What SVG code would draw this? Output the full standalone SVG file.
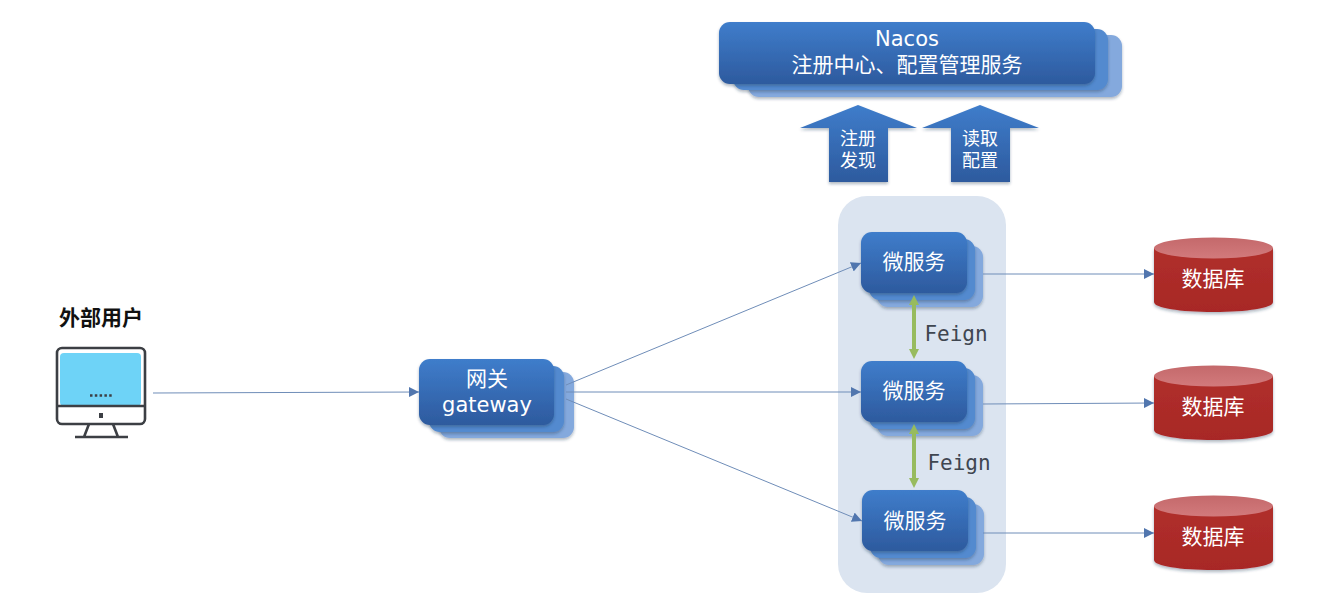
<svg xmlns="http://www.w3.org/2000/svg" width="1338" height="602" viewBox="0 0 1338 602">
<style>
text{font-family:"DejaVu Sans","Noto Sans CJK SC",sans-serif;text-anchor:middle}
.w{fill:#fff;font-size:21px}
.cn{fill:#fff;font-size:21px;font-family:"Noto Sans CJK SC",sans-serif}
.sm{fill:#fff;font-size:18px;font-family:"Noto Sans CJK SC",sans-serif}
.f{fill:#3f4650;font-size:21px;font-family:"DejaVu Sans Mono",monospace}
.front{fill:url(#blue);filter:url(#sh)}
.mid{fill:#528acf;filter:url(#sh)}
.back{fill:#84a9dd;filter:url(#sh)}
.c{stroke:#6f8db8;stroke-width:1;fill:none;marker-end:url(#ah)}
.g{stroke:#97bb5e;stroke-width:4;fill:none;marker-start:url(#gh);marker-end:url(#gh)}
.scr{fill:none;stroke:#3c3f44;stroke-width:2.6}
</style>
<defs>
<linearGradient id="blue" x1="0" y1="0" x2="0" y2="1"><stop offset="0" stop-color="#3f7dcb"/><stop offset="1" stop-color="#2d5a9e"/></linearGradient>
<linearGradient id="red" x1="0" y1="0" x2="0" y2="1"><stop offset="0" stop-color="#b02f2c"/><stop offset="1" stop-color="#a82825"/></linearGradient>
<linearGradient id="lid" x1="0" y1="0" x2="0" y2="1"><stop offset="0" stop-color="#c4696b"/><stop offset="1" stop-color="#d27a7c"/></linearGradient>
<filter id="sh" x="-10%" y="-10%" width="120%" height="130%"><feDropShadow dx="0" dy="2" stdDeviation="1.8" flood-color="#1f3050" flood-opacity=".35"/></filter>
<marker id="ah" markerUnits="userSpaceOnUse" markerWidth="11" markerHeight="10" refX="10" refY="5" orient="auto"><path d="M0 0L10 5L0 10z" fill="#5176ae"/></marker>
<marker id="gh" markerUnits="userSpaceOnUse" markerWidth="11" markerHeight="10" refX="1" refY="5" orient="auto-start-reverse"><path d="M0 0L10 5L0 10z" fill="#97bb5e"/></marker>
</defs>
<rect width="1338" height="602" fill="#fff"/>
<rect id="panel" x="838" y="196" width="168" height="397" rx="29" fill="#dbe4f0"/>
<g id="nacos">
<rect class="back" x="748" y="35" width="374" height="62" rx="11"/>
<rect class="mid" x="733" y="29" width="375" height="61" rx="11"/>
<rect class="front" x="719" y="22" width="376" height="62" rx="11"/>
<text class="w" x="907" y="46">Nacos</text>
<text class="w" x="907" y="72" style="font-family:'Noto Sans CJK SC',sans-serif">注册中心、配置管理服务</text>
</g>
<g id="register-arrow">
<path class="front" d="M858 105L917 128H888V182H829V128H800z"/>
<text class="sm" x="858" y="145">注册<tspan x="858" dy="22">发现</tspan></text>
</g>
<g id="config-arrow">
<path class="front" d="M980 105L1039 128H1010V182H951V128H922z"/>
<text class="sm" x="980" y="145">读取<tspan x="980" dy="22">配置</tspan></text>
</g>
<g id="user">
<text x="101" y="325" style="font-size:21px;font-weight:700;fill:#111;font-family:'Noto Sans CJK SC',sans-serif">外部用户</text>
<rect x="60" y="353" width="81" height="53" rx="4" fill="#6ed3f7"/>
<rect class="scr" x="57" y="348" width="88" height="76" rx="5"/>
<path class="scr" d="M57 406H145M89 424L84 437M113 424L118 437M75 437H128"/>
<rect x="99" y="413" width="4" height="5" fill="#3c3f44"/>
<path d="M90 395.500H113" stroke="#3c3f44" stroke-width="2.500" stroke-dasharray="2.500 2.300" fill="none"/>
</g>
<g id="gateway">
<rect class="back" x="439" y="372" width="135" height="66" rx="11"/>
<rect class="mid" x="429" y="366" width="135" height="66" rx="11"/>
<rect class="front" x="419" y="359" width="135" height="66" rx="11"/>
<text class="w" x="487" y="386" style="font-family:'Noto Sans CJK SC',sans-serif">网关</text>
<text class="w" x="487" y="412">gateway</text>
</g>
<g id="service-1">
<rect class="back" x="877" y="246" width="106" height="61" rx="11"/>
<rect class="mid" x="869" y="239" width="106" height="61" rx="11"/>
<rect class="front" x="861" y="232" width="106" height="61" rx="11"/>
<text class="cn" x="914" y="269">微服务</text>
</g>
<g id="service-2">
<rect class="back" x="877" y="375" width="106" height="61" rx="11"/>
<rect class="mid" x="869" y="368" width="106" height="61" rx="11"/>
<rect class="front" x="861" y="361" width="106" height="61" rx="11"/>
<text class="cn" x="914" y="398">微服务</text>
</g>
<g id="service-3">
<rect class="back" x="878" y="504" width="106" height="61" rx="11"/>
<rect class="mid" x="870" y="497" width="106" height="61" rx="11"/>
<rect class="front" x="862" y="490" width="106" height="61" rx="11"/>
<text class="cn" x="915" y="528">微服务</text>
</g>
<g id="db-1">
<path d="M1154 248V302C1154 308 1180 312 1213.500 312S1273 308 1273 302V248z" fill="url(#red)" filter="url(#sh)"/>
<ellipse cx="1213.500" cy="248" rx="59.500" ry="10.500" fill="url(#lid)"/>
<text class="cn" x="1213" y="286">数据库</text>
</g>
<g id="db-2">
<path d="M1154 376V430C1154 436 1180 440 1213.500 440S1273 436 1273 430V376z" fill="url(#red)" filter="url(#sh)"/>
<ellipse cx="1213.500" cy="376" rx="59.500" ry="10.500" fill="url(#lid)"/>
<text class="cn" x="1213" y="414">数据库</text>
</g>
<g id="db-3">
<path d="M1154 506V560C1154 566 1180 570 1213.500 570S1273 566 1273 560V506z" fill="url(#red)" filter="url(#sh)"/>
<ellipse cx="1213.500" cy="506" rx="59.500" ry="10.500" fill="url(#lid)"/>
<text class="cn" x="1213" y="544">数据库</text>
</g>
<g id="connectors">
<path class="c" d="M153 393L419 392"/>
<path class="c" d="M566 385L861 263"/>
<path class="c" d="M566 392L861 392"/>
<path class="c" d="M566 399L862 521"/>
<path class="c" d="M983 274L1154 274"/>
<path class="c" d="M983 404L1154 403"/>
<path class="c" d="M983 533L1154 533"/>
<path class="g" d="M914 304L914 350"/>
<path class="g" d="M914 433L914 479"/>
</g>
<text class="f" x="956" y="341">Feign</text>
<text class="f" x="959" y="470">Feign</text>
</svg>
